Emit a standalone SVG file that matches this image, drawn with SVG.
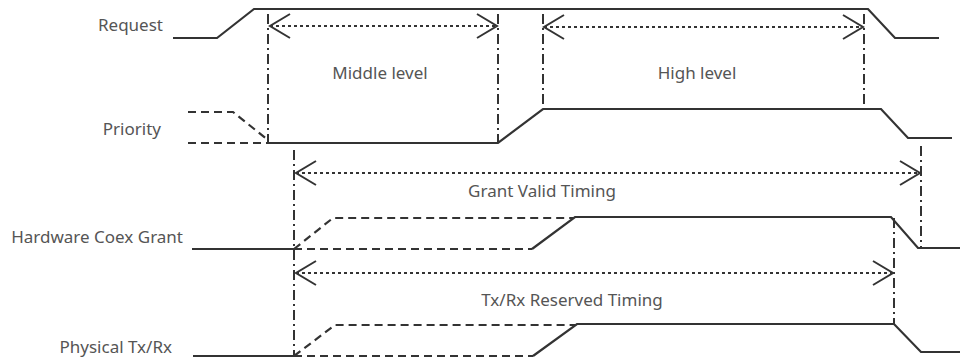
<svg xmlns="http://www.w3.org/2000/svg" width="960" height="361" viewBox="0 0 960 361">
<style>
text{font-family:"Noto Sans","Liberation Sans",sans-serif;font-size:17px;fill:#555}
.lbl{text-anchor:end}
.mid{text-anchor:middle}
.w{fill:none;stroke:#333;stroke-width:2.2}
.d{fill:none;stroke:#333;stroke-width:2.2;stroke-dasharray:8 5}
.dot{fill:none;stroke:#333;stroke-width:2;stroke-dasharray:3 3;marker-start:url(#ah);marker-end:url(#ah)}
.dd{fill:none;stroke:#333;stroke-width:2;stroke-dasharray:10 4 2 4}
</style>
<defs>
<marker id="ah" viewBox="-22 -14 24 28" refX="0" refY="0" markerWidth="24" markerHeight="28" markerUnits="userSpaceOnUse" orient="auto-start-reverse">
<path d="M-20 -12 L0 0 L-20 12" fill="none" stroke="#333" stroke-width="2"/>
</marker>
</defs>
<g id="request">
<text class="lbl" x="163" y="31">Request</text>
<path class="w" d="M173 38 H217 L254 9 H868 L895 38 H939"/>
</g>
<g id="priority">
<text class="lbl" x="161" y="135">Priority</text>
<path class="d" d="M188 112 H233 L268 140"/>
<path class="d" d="M188 143 H268"/>
<path class="w" d="M268 143 H498 L543 109 H881 L908 138 H952"/>
</g>
<g id="grant">
<text class="lbl" x="183" y="243">Hardware Coex Grant</text>
<path class="w" d="M192 249 H294"/>
<path class="d" d="M294 249 L333 218 H573"/>
<path class="d" d="M294 249 H532"/>
<path class="w" d="M532 249 L575 217 H891 L918 248 H960"/>
</g>
<g id="physical">
<text class="lbl" x="172" y="353">Physical Tx/Rx</text>
<path class="w" d="M193 356 H294"/>
<path class="d" d="M294 356 L335 325 H575"/>
<path class="d" d="M294 356 H533"/>
<path class="w" d="M533 356 L577 324 H894 L921 352 H960"/>
</g>
<g id="connectors">
<path class="dd" d="M268 14 V142"/>
<path class="dd" d="M498 14 V143"/>
<path class="dd" d="M543 14 V108"/>
<path class="dd" d="M864 14 V108"/>
<path class="dd" d="M294 150 V356"/>
<path class="dd" d="M921 146 V248"/>
<path class="dd" d="M894 218 V324"/>
<path class="dot" d="M270 26 H497"/>
<path class="dot" d="M544 27 H863"/>
<path class="dot" d="M296 173 H920"/>
<path class="dot" d="M296 273 H893"/>
</g>
<g id="annotations">
<text class="mid" x="380" y="79">Middle level</text>
<text class="mid" x="697" y="79">High level</text>
<text class="mid" x="542" y="197">Grant Valid Timing</text>
<text class="mid" x="572" y="306">Tx/Rx Reserved Timing</text>
</g>
</svg>
